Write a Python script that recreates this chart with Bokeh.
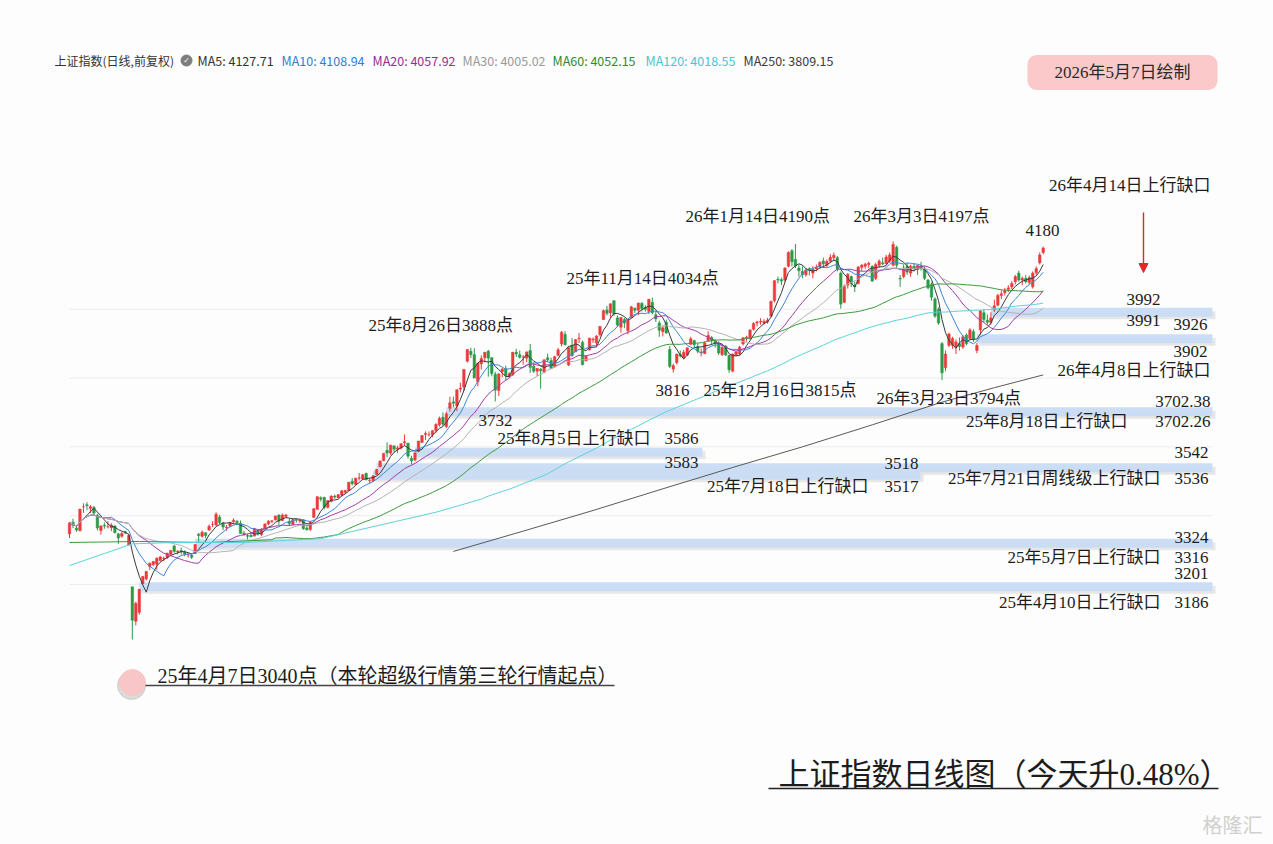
import numpy as np
import pandas as pd
from bokeh.plotting import figure
from bokeh.models import Range1d, Label, Arrow, NormalHead, ColumnDataSource
from bokeh.embed import file_html
from bokeh.resources import INLINE

# ---------------- data (SSE Composite daily, 2025-03-11 .. 2026-05-07) ----------------
opens = [
    3347, 3381, 3364, 3356, 3426, 3432, 3421, 3424, 3401, 3357,
    3372, 3368, 3365, 3370, 3347, 3340, 3353, 3315, 3193, 3093,
    3119, 3202, 3216, 3252, 3258, 3259, 3270, 3275, 3279, 3288,
    3312, 3295, 3299, 3295, 3286, 3285, 3290, 3346, 3340, 3350,
    3358, 3374, 3373, 3396, 3378, 3365, 3370, 3382, 3384, 3378,
    3349, 3342, 3343, 3341, 3358, 3345, 3362, 3376, 3383, 3388,
    3402, 3386, 3398, 3383, 3375, 3388, 3385, 3388, 3364, 3360,
    3395, 3418, 3452, 3453, 3424, 3441, 3457, 3452, 3460, 3468,
    3473, 3500, 3491, 3509, 3507, 3523, 3502, 3501, 3520, 3542,
    3560, 3590, 3582, 3603, 3593, 3597, 3612, 3611, 3567, 3562,
    3586, 3613, 3636, 3635, 3635, 3648, 3664, 3686, 3659, 3712,
    3731, 3719, 3768, 3774, 3849, 3878, 3868, 3789, 3841, 3859,
    3878, 3859, 3811, 3764, 3819, 3827, 3806, 3810, 3875, 3868,
    3861, 3858, 3880, 3835, 3820, 3826, 3817, 3859, 3851, 3834,
    3866, 3899, 3927, 3838, 3896, 3876, 3914, 3904, 3850, 3882,
    3911, 3902, 3926, 3970, 3998, 3990, 4025, 3975, 3948, 3970,
    3938, 3976, 4003, 3997, 4017, 4005, 3994, 4020, 3984, 3960,
    3935, 3962, 3883, 3826, 3845, 3869, 3859, 3867, 3898, 3909,
    3891, 3873, 3871, 3909, 3918, 3906, 3901, 3868, 3893, 3866,
    3820, 3868, 3870, 3899, 3916, 3915, 3942, 3960, 3963, 3960,
    3963, 3980, 4025, 4087, 4086, 4085, 4125, 4170, 4145, 4120,
    4110, 4100, 4118, 4105, 4118, 4125, 4140, 4128, 4140, 4150,
    4150, 4105, 4020, 4070, 4095, 4070, 4075, 4122, 4125, 4130,
    4125, 4090, 4128, 4135, 4133, 4140, 4128, 4180, 4090, 4095,
    4125, 4105, 4125, 4115, 4125, 4118, 4085, 4072, 4030, 4000,
    3900, 3830, 3895, 3895, 3890, 3900, 3890, 3925, 3915, 3935,
    3880, 3940, 3990, 3968, 3962, 3998, 4012, 4040, 4048, 4058,
    4065, 4080, 4105, 4085, 4090, 4078, 4065, 4106, 4135, 4165,
]
highs = [
    3382, 3391, 3372, 3419, 3436, 3439, 3431, 3428, 3405, 3372,
    3380, 3384, 3378, 3372, 3350, 3352, 3356, 3347, 3193, 3150,
    3186, 3225, 3239, 3263, 3268, 3279, 3283, 3281, 3292, 3300,
    3315, 3300, 3307, 3299, 3292, 3289, 3316, 3350, 3357, 3352,
    3374, 3384, 3410, 3402, 3382, 3373, 3382, 3392, 3387, 3386,
    3356, 3347, 3350, 3364, 3360, 3363, 3377, 3387, 3387, 3400,
    3404, 3406, 3405, 3391, 3393, 3392, 3392, 3389, 3371, 3385,
    3422, 3456, 3456, 3455, 3444, 3459, 3461, 3463, 3475, 3475,
    3498, 3509, 3510, 3524, 3521, 3525, 3509, 3517, 3536, 3560,
    3582, 3613, 3606, 3604, 3603, 3610, 3636, 3611, 3574, 3583,
    3617, 3634, 3645, 3645, 3648, 3669, 3688, 3700, 3702.26, 3746,
    3746, 3766, 3787, 3826, 3884, 3888, 3887, 3845, 3866, 3875,
    3882, 3861, 3818, 3814, 3829, 3836, 3817, 3876, 3885, 3880,
    3867, 3877, 3899, 3842, 3829, 3829, 3854, 3871, 3859, 3865,
    3888, 3937, 3936, 3890, 3916, 3913, 3931, 3909, 3866, 3917,
    3918, 3925, 3951, 3999, 4010, 4016, 4025, 3982, 3976, 3975,
    3971, 4010, 4005, 4019, 4021, 4012, 4030, 4034, 3996, 3967,
    3951, 3970, 3893, 3842, 3870, 3880, 3882, 3889, 3920, 3911,
    3901, 3886, 3906, 3936, 3922, 3914, 3907, 3896, 3896, 3867,
    3871, 3878, 3894, 3919, 3923, 3941, 3962, 3967, 3974, 3971,
    3975, 4025, 4085, 4095, 4092, 4122, 4168, 4175, 4190, 4130,
    4125, 4120, 4122, 4125, 4130, 4140, 4150, 4145, 4160, 4165,
    4155, 4110, 4072, 4105, 4098, 4080, 4125, 4132, 4135, 4138,
    4128, 4135, 4145, 4150, 4158, 4165, 4197, 4185, 4100, 4130,
    4135, 4130, 4135, 4130, 4138, 4125, 4088, 4078, 4035, 4005,
    3905, 3880, 3932, 3920, 3912, 3918, 3925, 3930, 3945, 3942,
    3902, 3998, 4000, 3985, 3991, 4028, 4045, 4055, 4062, 4070,
    4082, 4100, 4112, 4095, 4100, 4098, 4110, 4125, 4165, 4182,
]
lows = [
    3335, 3364, 3353, 3355, 3408, 3416, 3408, 3401, 3357, 3345,
    3362, 3363, 3355, 3348, 3318, 3336, 3346, 3315, 3040, 3081,
    3112, 3201, 3212, 3242, 3253, 3243, 3267, 3268, 3274, 3285,
    3292, 3287, 3287, 3282, 3278, 3274, 3289, 3324, 3336, 3334,
    3356, 3367, 3370, 3375, 3358, 3356, 3366, 3377, 3373, 3348,
    3341, 3331, 3337, 3339, 3342, 3340, 3361, 3372, 3378, 3386,
    3373, 3384, 3394, 3370, 3372, 3380, 3378, 3359, 3357, 3355,
    3394, 3418, 3441, 3418, 3421, 3439, 3449, 3451, 3455, 3463,
    3473, 3488, 3489, 3502, 3503, 3502, 3493, 3497, 3518, 3542,
    3558, 3570, 3576, 3584, 3582, 3592, 3604, 3566, 3549, 3558,
    3586, 3611, 3620, 3630, 3628, 3641, 3659, 3661, 3655, 3702.38,
    3715, 3704, 3758, 3762, 3845, 3858, 3800, 3776, 3825, 3846,
    3804, 3805, 3732, 3748, 3802, 3793, 3800, 3806, 3861, 3857,
    3839, 3846, 3815, 3815, 3806, 3769, 3814, 3847, 3827, 3830,
    3863, 3892, 3895, 3835, 3862, 3876, 3902, 3837, 3849, 3880,
    3902, 3890, 3921, 3970, 3982, 3976, 3981, 3949, 3932, 3945,
    3927, 3976, 3989, 3983, 3994, 3993, 3986, 3985, 3963, 3920,
    3921, 3929, 3829, 3816, 3840, 3860, 3854, 3864, 3897, 3888,
    3872, 3863, 3870, 3907, 3897, 3888, 3867, 3864, 3864, 3815,
    3817, 3862, 3866, 3895, 3906, 3912, 3938, 3950, 3955, 3955,
    3958, 3978, 4020, 4075, 4070, 4080, 4122, 4125, 4120, 4095,
    4090, 4095, 4098, 4090, 4110, 4118, 4120, 4122, 4135, 4140,
    4110, 4002, 4018, 4060, 4065, 4050, 4072, 4112, 4118, 4120,
    4080, 4085, 4120, 4128, 4130, 4135, 4125, 4120, 4065, 4090,
    4100, 4095, 4110, 4100, 4112, 4085, 4058, 4025, 3975, 3955,
    3794, 3820, 3890, 3885, 3870, 3880, 3885, 3895, 3910, 3905,
    3872, 3926, 3962, 3955, 3955, 3992, 4008, 4030, 4040, 4050,
    4058, 4072, 4080, 4070, 4075, 4072, 4060, 4100, 4130, 4160,
]
closes = [
    3379, 3372, 3358, 3419, 3426, 3429, 3426, 3408, 3364, 3370,
    3370, 3368, 3373, 3351, 3335, 3348, 3350, 3342, 3096, 3145,
    3186, 3223, 3238, 3262, 3267, 3276, 3280, 3276, 3291, 3299,
    3296, 3297, 3295, 3288, 3286, 3279, 3316, 3342, 3352, 3342,
    3369, 3374, 3404, 3380, 3367, 3367, 3380, 3387, 3380, 3348,
    3346, 3340, 3339, 3363, 3347, 3361, 3376, 3384, 3385, 3399,
    3384, 3402, 3402, 3377, 3388, 3387, 3388, 3362, 3359, 3381,
    3420, 3455, 3448, 3424, 3444, 3457, 3454, 3461, 3472, 3473,
    3497, 3493, 3509, 3510, 3519, 3505, 3503, 3516, 3534, 3559,
    3581, 3582, 3605, 3593, 3597, 3609, 3615, 3573, 3559, 3583,
    3617, 3633, 3639, 3635, 3647, 3665, 3683, 3666, 3696, 3728,
    3727, 3766, 3771, 3825, 3883, 3868, 3800, 3843, 3857, 3875,
    3858, 3813, 3765, 3812, 3826, 3807, 3812, 3875, 3870, 3860,
    3861, 3876, 3831, 3820, 3828, 3821, 3853, 3853, 3828, 3862,
    3882, 3933, 3897, 3889, 3865, 3912, 3916, 3839, 3863, 3916,
    3913, 3922, 3950, 3996, 3988, 4016, 3986, 3954, 3976, 3960,
    3969, 4007, 3997, 4018, 4002, 4000, 4029, 3990, 3972, 3939,
    3946, 3931, 3834, 3836, 3870, 3864, 3875, 3888, 3914, 3897,
    3878, 3875, 3902, 3924, 3909, 3900, 3873, 3889, 3867, 3824,
    3870, 3876, 3890, 3917, 3919, 3940, 3959, 3963, 3965, 3965,
    3968, 4023, 4083, 4085, 4082, 4120, 4165, 4138, 4126, 4112,
    4101, 4114, 4113, 4116, 4122, 4136, 4132, 4139, 4151, 4157,
    4117, 4015, 4067, 4102, 4075, 4065, 4123, 4128, 4131, 4134,
    4082, 4130, 4140, 4132, 4152, 4158, 4188, 4128, 4088, 4120,
    4108, 4125, 4118, 4127, 4120, 4090, 4062, 4035, 3980, 3960,
    3815, 3870, 3928, 3915, 3905, 3892, 3920, 3900, 3940, 3912,
    3895, 3995, 3970, 3962, 3975, 4010, 4040, 4045, 4055, 4062,
    4075, 4095, 4085, 4090, 4080, 4092, 4105, 4118, 4158, 4178,
]

ma60_head_idx = [0, 20, 40, 58]
ma60_head_val = [3322, 3325, 3322, 3330]
ma120_head_idx = [0, 10, 18, 30, 50, 72, 90, 105, 118]
ma120_head_val = [3255, 3290, 3318, 3322, 3322, 3333, 3375, 3410, 3448]
ma250_idx = [110, 130, 150, 170, 190, 210, 230, 250, 265, 279]
ma250_val = [3296, 3355, 3415, 3478, 3540, 3600, 3664, 3730, 3772, 3809.15]

header_names = ["MA5", "MA10", "MA20", "MA30", "MA60", "MA120", "MA250"]
header_values = ["4127.71", "4108.94", "4057.92", "4005.02", "4052.15", "4018.55", "3809.15"]

# upward gaps
gap_names = ["25年4月10日上行缺口", "25年5月7日上行缺口", "25年7月18日上行缺口",
             "25年7月21日周线级上行缺口", "25年8月5日上行缺口", "25年8月18日上行缺口",
             "26年4月8日上行缺口", "26年4月14日上行缺口"]
gap_low = [3186, 3316, 3517, 3536, 3583, 3702.26, 3902, 3991]
gap_high = [3201, 3324, 3518, 3542, 3586, 3702.38, 3926, 3992]
gap_start = [20, 36, 87, 88, 99, 108, 260, 264]

point_labels = ["26年1月14日4190点", "26年3月3日4197点", "4180", "25年11月14日4034点",
                "25年8月26日3888点", "3816", "25年12月16日3815点", "26年3月23日3794点", "3732"]
start_note = "25年4月7日3040点（本轮超级行情第三轮行情起点）"
title_text = "上证指数日线图（今天升0.48%）"
date_stamp = "2026年5月7日绘制"

# ---------------- layout helpers (page pixel -> data) ----------------
X0, DX = 69.0, 3.49
YREF_PX, YREF, PXPT = 639.0, 3040.0, 0.344


def xd(px):
    return (px - X0) / DX


def yd(py):
    return YREF + (YREF_PX - py) / PXPT


W, H = 1273, 844
BG = "#fdfdfd"
p = figure(width=W, height=H, x_range=Range1d(xd(0), xd(W)),
           y_range=Range1d(yd(H), yd(0)), output_backend="svg",
           toolbar_location=None, x_axis_location=None, y_axis_location=None,
           min_border=0, background_fill_color=BG, border_fill_color=BG,
           outline_line_color=None)
p.xgrid.visible = False
p.ygrid.visible = False

SERIF = "Liberation Serif, Noto Sans CJK SC"
SANS = "Noto Sans CJK SC"
INK = "#1c1c1c"


def lab(px, py, text, size=17, align="left", color=INK, font=SERIF, **kw):
    p.add_layout(Label(x=xd(px), y=yd(py), text=text, text_font=font,
                       text_font_size=f"{size}px", text_color=color,
                       text_align=align, text_baseline="middle", **kw))


# faint price grid
for lvl in [3200, 3400, 3600, 3800, 4000]:
    p.segment(x0=[xd(69)], y0=[lvl], x1=[xd(1212)], y1=[lvl], line_color="#ededed", line_width=1)

# ---------------- gap bands ----------------
band_end_px = [1212, 1212, 920, 1212, 702, 1212, 1212, 1212]
gmid = [(a + b) / 2 for a, b in zip(gap_low, gap_high)]
gsrc = ColumnDataSource(dict(
    x0=gap_start, x1=[xd(e) for e in band_end_px], y=gmid,
    sx0=[g + 2.0 / DX for g in gap_start], sx1=[xd(e + 3) for e in band_end_px],
    sy=[m - 3 / PXPT for m in gmid]))
p.segment(x0="sx0", y0="sy", x1="sx1", y1="sy", source=gsrc, line_width=8,
          line_color="#8f8f8f", line_alpha=0.2)
p.segment(x0="x0", y0="y", x1="x1", y1="y", source=gsrc, line_width=9,
          line_color="#c9dcf4", line_alpha=0.95)

# ---------------- candles ----------------
N = len(closes)
idx = np.arange(N)
df = pd.DataFrame(dict(i=idx, o=opens, h=highs, l=lows, c=closes))
df["top"] = df[["o", "c"]].max(axis=1)
df["bot"] = df[["o", "c"]].min(axis=1)
RED, GREEN = "#ec3a3c", "#2a9a46"
df["col"] = np.where(df["c"] >= df["o"], RED, GREEN)
src = ColumnDataSource(df)
p.segment(x0="i", y0="h", x1="i", y1="l", line_color="col", line_width=1, source=src)
p.vbar(x="i", width=0.72, top="top", bottom="bot", fill_color="col",
       line_color="col", line_width=0.5, source=src)

# ---------------- moving averages ----------------
s = pd.Series(closes, dtype=float)
ma_cols = {5: "#3a3a3a", 10: "#3b86d6", 20: "#a23ca6", 30: "#b3b3b3"}
for n, col in ma_cols.items():
    p.line(idx, s.rolling(n, min_periods=1).mean().values, line_color=col, line_width=1)
ma60 = s.rolling(60).mean()
p.line(ma60_head_idx + list(range(59, N)), ma60_head_val + list(ma60.values[59:]),
       line_color="#3d9a3d", line_width=1)
ma120 = s.rolling(120).mean()
p.line(ma120_head_idx + list(range(119, N)), ma120_head_val + list(ma120.values[119:]),
       line_color="#5cd2da", line_width=1)
p.line(ma250_idx, ma250_val, line_color="#5a5a5a", line_width=1)

# ---------------- header ----------------
lab(54, 60, "上证指数(日线,前复权)", size=12, font=SANS, color="#333333")
p.scatter(x=[xd(186)], y=[yd(60)], size=11, color="#7d7d7d")
lab(186, 60, "✓", size=8, align="center", color="white", font="DejaVu Sans")
hdr_x = [197, 281, 372, 462, 552, 645, 743]
hdr_col = ["#333333", "#2f7fd0", "#952e8e", "#9a9a9a", "#2f8a2f", "#48c6d0", "#3a3a3a"]
for xp, nm, v, c in zip(hdr_x, header_names, header_values, hdr_col):
    lab(xp, 60, f"{nm}: {v}", size=12.5, font=SANS, color=c)

# date stamp box
p.add_layout(Label(x=xd(1122), y=yd(72), text=date_stamp, text_font=SERIF,
                   text_font_size="17px", text_color="#2a2a2a", text_alpha=0.0,
                   text_align="center", text_baseline="middle",
                   background_fill_color="#9a9a9a", background_fill_alpha=0.35,
                   border_radius=9, x_offset=3, y_offset=-4,
                   padding=dict(left=27, right=27, top=8, bottom=8)))
p.add_layout(Label(x=xd(1122), y=yd(72), text=date_stamp, text_font=SERIF,
                   text_font_size="17px", text_color="#2a2a2a",
                   text_align="center", text_baseline="middle",
                   background_fill_color="#fbc9c9", border_radius=9,
                   padding=dict(left=27, right=27, top=8, bottom=8)))

# ---------------- gap labels ----------------
hi_pos = [(1208, 573), (1208, 537), (918, 463), (1208, 452), (698, 438), (1210, 401), (1207, 324), (1160, 299)]
lo_pos = [(1208, 602), (1208, 557), (918, 486), (1208, 478), (698, 462), (1210, 421), (1207, 351), (1160, 320)]
nm_pos = [(1160, 602), (1160, 557), (868, 486), (1160, 478), (650, 438), (1127, 421), (1210, 370), (1210, 185)]
for k in range(len(gap_names)):
    lab(*hi_pos[k], f"{gap_high[k]:g}", align="right")
    lab(*lo_pos[k], f"{gap_low[k]:g}", align="right")
    lab(*nm_pos[k], gap_names[k], align="right")

p.add_layout(Arrow(x_start=xd(1143), y_start=yd(212), x_end=xd(1143), y_end=yd(272),
                   line_color="#e0282a", line_width=1.4,
                   end=NormalHead(size=9, fill_color="#e0282a", line_color="#e0282a")))

# ---------------- point annotations ----------------
pt_pos = [(685, 216), (853, 216), (1025, 230), (566, 278), (368, 325),
          (655, 390), (703, 390), (876, 398), (478, 420)]
for (xp, yp), t in zip(pt_pos, point_labels):
    lab(xp, yp, t)

# start note with marker and underline
p.scatter(x=[xd(131)], y=[yd(685)], size=28, color="#9a9a9a", alpha=0.35)
p.scatter(x=[xd(132)], y=[yd(682)], size=26, color="#f8c6c6")
lab(157, 675, start_note, size=20)
p.segment(x0=[xd(145)], y0=[yd(685)], x1=[xd(614)], y1=[yd(685)], line_color="#444444", line_width=1.3)

# title with underline
lab(778, 774, title_text, size=31)
p.segment(x0=[xd(768)], y0=[yd(788)], x1=[xd(1218)], y1=[yd(788)], line_color="#222222", line_width=1.6)

# watermark
lab(1262, 824, "格隆汇", size=20, align="right", color="#d0d0d0", font=SANS)

open("out.html", "w").write(file_html(p, INLINE, title="上证指数日线图"))
